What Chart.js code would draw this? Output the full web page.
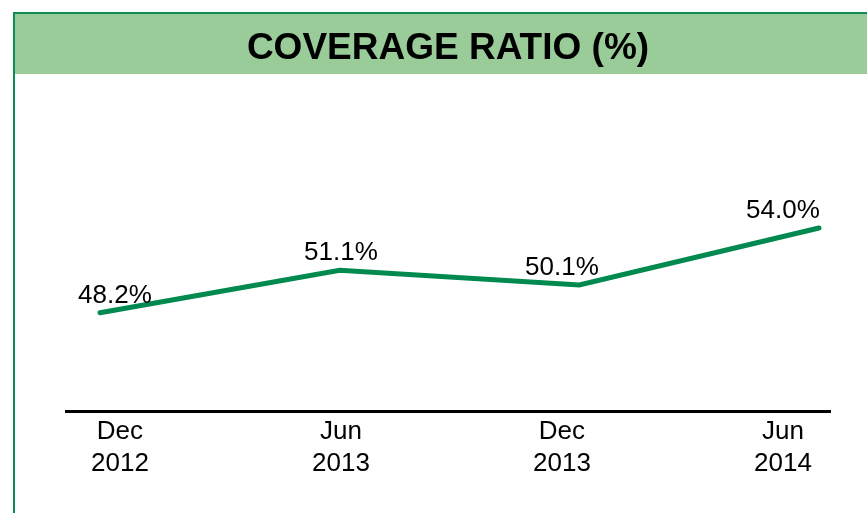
<!DOCTYPE html>
<html>
<head>
<meta charset="utf-8">
<script src="https://cdn.jsdelivr.net/npm/chart.js@4/dist/chart.umd.min.js"></script>
<style>
  html, body { margin: 0; padding: 0; background: #fff; overflow: hidden; }
  #frame {
    position: absolute; left: 13px; top: 12px; width: 900px; height: 600px;
    border-left: 2px solid #0e8c58; border-top: 2px solid #0e8c58;
  }
  #band { position: absolute; left: 0; top: 0; width: 100%; height: 60px; background: #99cc99; }
  #wrap { position: absolute; left: 0; top: 0; width: 867px; height: 513px; }
</style>
</head>
<body>
<div id="frame"><div id="band"></div></div>
<div id="wrap"><canvas id="ratioChart"></canvas></div>
<script>
const periods = [['Dec', '2012'], ['Jun', '2013'], ['Dec', '2013'], ['Jun', '2014']];
const coverage = [48.2, 51.1, 50.1, 54.0];
const pointLabels = ['48.2%', '51.1%', '50.1%', '54.0%'];

// 数据标签：放在分类刻度的位置上、线的上方
const labelPlugin = {
    id: 'pointLabels',
    afterDatasetsDraw(chart) {
        const ctx = chart.ctx;
        const meta = chart.getDatasetMeta(0);
        const x2 = chart.scales.x2;
        ctx.save();
        ctx.font = '26px "Liberation Sans", Arial, sans-serif';
        ctx.fillStyle = '#000';
        ctx.textAlign = 'center';
        ctx.textBaseline = 'alphabetic';
        meta.data.forEach((pt, i) => {
            ctx.fillText(pointLabels[i], x2.getPixelForValue(i) - (i === 0 ? 5 : 0), pt.y - 10);
        });
        ctx.restore();
    }
};

const ctx = document.getElementById('ratioChart').getContext('2d');
new Chart(ctx, {
    type: 'line',
    data: {
        datasets: [{
            data: coverage.map((v, i) => ({ x: i, y: v })),
            borderColor: '#008a4f',
            borderWidth: 5,
            borderCapStyle: 'round',
            pointRadius: 0,
            fill: false,
            tension: 0,
            xAxisID: 'x'
        }]
    },
    options: {
        responsive: true,
        maintainAspectRatio: false,
        animation: false,
        layout: { padding: { left: 66, right: 37, top: 0, bottom: 37.5 } },
        scales: {
            x: { type: 'linear', display: false, min: -0.142, max: 3.046 },
            x2: {
                type: 'linear',
                position: 'bottom',
                min: -0.244,
                max: 3.213,
                afterBuildTicks: axis => { axis.ticks = periods.map((p, i) => ({ value: i })); },
                ticks: {
                    autoSkip: false,
                    maxRotation: 0,
                    padding: -4,
                    color: '#000',
                    font: { family: '"Liberation Sans", Arial, sans-serif', size: 26, lineHeight: 1.23 },
                    callback: v => periods[v]
                },
                grid: { display: false },
                border: { display: true, color: '#000', width: 3 }
            },
            y: { display: false, min: 41.43, max: 64.25 }
        },
        plugins: {
            legend: { display: false },
            tooltip: { enabled: false },
            title: {
                display: true,
                text: 'COVERAGE RATIO (%)',
                color: '#000',
                font: { family: '"Liberation Sans", Arial, sans-serif', size: 37, weight: 'bold', lineHeight: 1.2 },
                padding: { top: 27, bottom: 7 }
            }
        }
    },
    plugins: [labelPlugin]
});
</script>
</body>
</html>
